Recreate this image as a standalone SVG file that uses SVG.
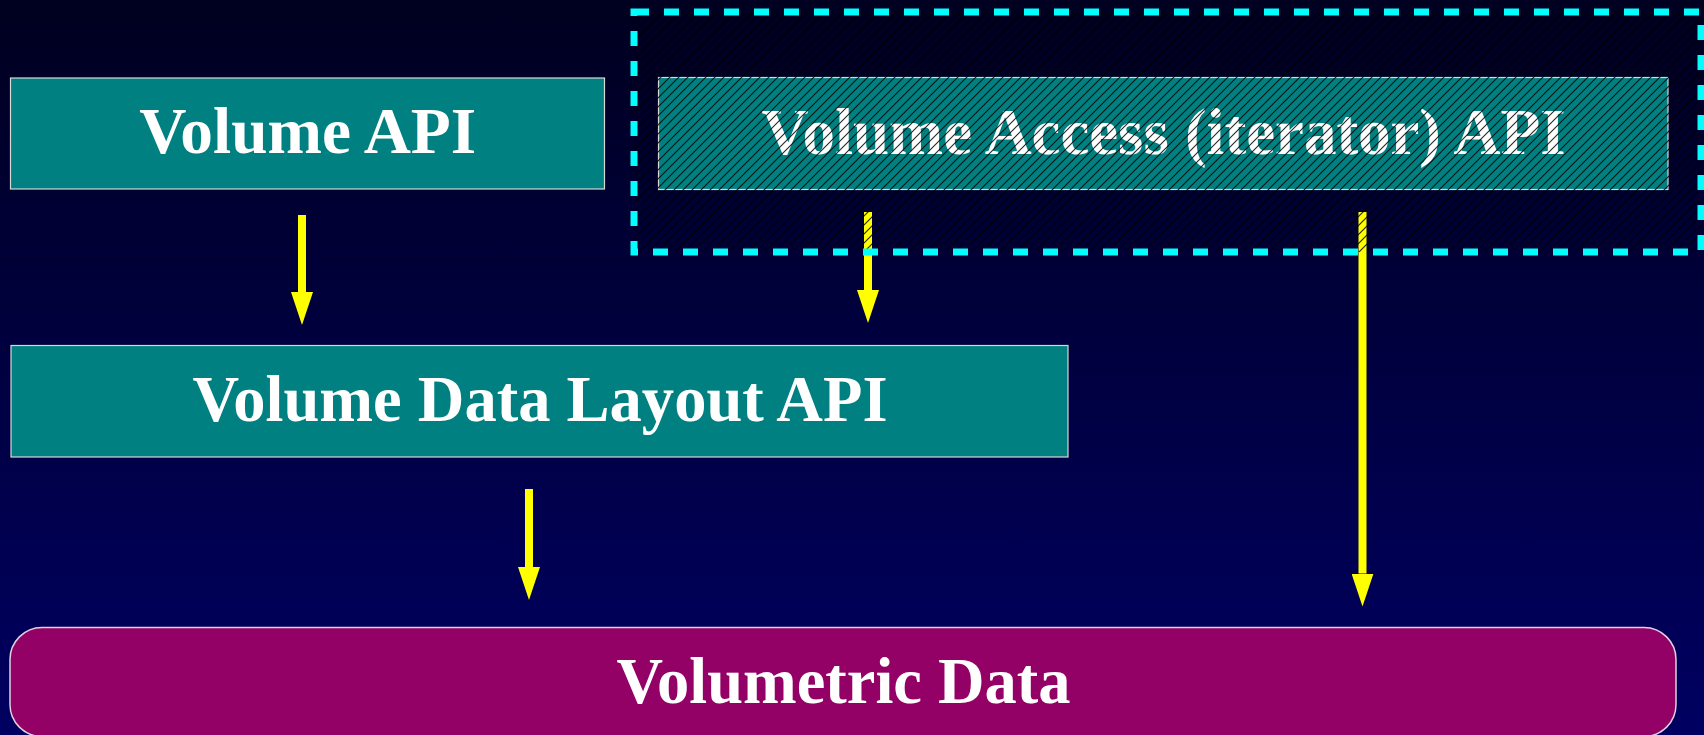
<svg xmlns="http://www.w3.org/2000/svg" width="1704" height="735" viewBox="0 0 1704 735">
  <defs>
    <linearGradient id="bg" x1="0" y1="0" x2="0" y2="1">
      <stop offset="0" stop-color="#000020"/>
      <stop offset="1" stop-color="#000062"/>
    </linearGradient>
    <pattern id="hatch" patternUnits="userSpaceOnUse" width="9" height="9">
      <path d="M-1,1 L1,-1 M0,9 L9,0 M8,10 L10,8" stroke="#000000" stroke-width="1.1" stroke-opacity="0.85"/>
    </pattern>
    <marker id="head" markerUnits="userSpaceOnUse" markerWidth="34" markerHeight="22" refX="0" refY="11" orient="auto" viewBox="0 0 34 22">
      <path d="M0,0 L33,11 L0,22 Z" fill="#ffff00"/>
    </marker>
    <clipPath id="groupClip">
      <rect x="634" y="12" width="1067" height="240"/>
    </clipPath>
  </defs>
  <style>
    .box { fill: #008080; stroke: #d8d8d8; stroke-width: 1.2; }
    .data { fill: #930066; stroke: #e0d0e0; stroke-width: 1.5; }
    .label { font-family: "Liberation Serif", "Times New Roman", serif; font-weight: bold; font-size: 66px; fill: #ffffff; text-anchor: middle; }
    .arrow { stroke: #ffff00; stroke-width: 8; fill: none; marker-end: url(#head); }
    .frame { fill: none; stroke: #00ffff; stroke-width: 7; stroke-dasharray: 15 15; }
  </style>

  <rect width="1704" height="735" fill="url(#bg)"/>

  <g id="volume-api">
    <rect class="box" x="10.5" y="78" width="594" height="111"/>
    <text class="label" x="307.7" y="153" textLength="337" lengthAdjust="spacingAndGlyphs">Volume API</text>
  </g>

  <g id="volume-access-api">
    <rect class="box" x="658.5" y="77.5" width="1009.5" height="112"/>
    <text class="label" x="1163.5" y="154" textLength="804" lengthAdjust="spacingAndGlyphs">Volume Access (iterator) API</text>
  </g>

  <g id="volume-data-layout-api">
    <rect class="box" x="11" y="345.5" width="1057" height="111.5"/>
    <text class="label" x="540" y="421" textLength="695" lengthAdjust="spacingAndGlyphs">Volume Data Layout API</text>
  </g>

  <g id="volumetric-data">
    <rect class="data" x="10" y="627.5" width="1666" height="109" rx="32" ry="32"/>
    <text class="label" x="843.5" y="703" textLength="454" lengthAdjust="spacingAndGlyphs">Volumetric Data</text>
  </g>

  <g id="connectors">
    <line class="arrow" x1="302" y1="215" x2="302" y2="292"/>
    <line class="arrow" x1="868" y1="212" x2="868" y2="290"/>
    <line class="arrow" x1="1362.5" y1="212" x2="1362.5" y2="573.5"/>
    <line class="arrow" x1="529" y1="489" x2="529" y2="567"/>
  </g>

  <!-- hatched access layer with its dashed boundary -->
  <g id="access-layer">
    <rect x="634" y="12" width="1067" height="240" fill="url(#hatch)" clip-path="url(#groupClip)"/>
    <rect class="frame" x="634" y="12" width="1067" height="240"/>
  </g>
</svg>
